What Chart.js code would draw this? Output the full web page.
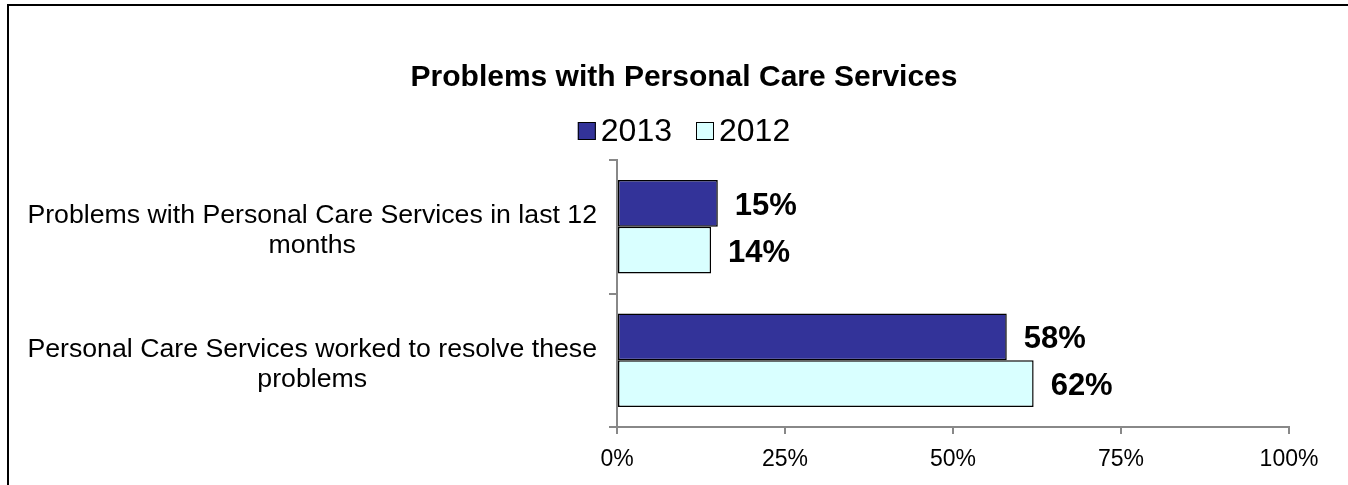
<!DOCTYPE html>
<html>
<head>
<meta charset="utf-8">
<script src="https://cdn.jsdelivr.net/npm/chart.js@4/dist/chart.umd.min.js"></script>
<style>
  html, body { margin: 0; padding: 0; background: #fff; }
  #wrap { width: 1348px; height: 485px; }
</style>
</head>
<body>
<div id="wrap"><canvas id="careChart" width="1348" height="485"></canvas></div>
<script>
const categories = [
  ['Problems with Personal Care Services in last 12', 'months'],
  ['Personal Care Services worked to resolve these', 'problems']
];
const values2013 = [15, 58];
const values2012 = [14, 62];
const xTicks = [0, 25, 50, 75, 100];

// outer frame (only top and left edges show in the picture)
const framePlugin = {
  id: 'frame',
  afterLayout(chart) {
    // centre the title over the whole frame rather than the padded area
    chart.titleBlock.left = 79;
    chart.titleBlock.right = 1289;
  },
  beforeDraw(chart) {
    const ctx = chart.ctx;
    ctx.save();
    ctx.strokeStyle = '#000';
    ctx.lineWidth = 2;
    ctx.beginPath();
    ctx.moveTo(8, 490);
    ctx.lineTo(8, 5);
    ctx.lineTo(1360, 5);
    ctx.stroke();
    ctx.restore();
  }
};

// legend drawn by hand so the box/text spacing matches
const legendPlugin = {
  id: 'smallLegend',
  afterDraw(chart) {
    const ctx = chart.ctx;
    const font = '32px "Liberation Sans", Arial, sans-serif';
    const box = 18, gap = 5, spacing = 24, cy = 131;
    ctx.save();
    ctx.font = font;
    const items = chart.data.datasets.map(ds => ({
      label: ds.label, color: ds.backgroundColor, w: ctx.measureText(ds.label).width
    }));
    let total = items.reduce((s, it) => s + box + gap + it.w, 0) + spacing * (items.length - 1);
    let x = 684 - total / 2;
    items.forEach(it => {
      ctx.fillStyle = it.color;
      ctx.fillRect(x, cy - box / 2, box, box);
      ctx.strokeStyle = '#000';
      ctx.lineWidth = 1;
      ctx.strokeRect(x + 0.5, cy - box / 2 + 0.5, box - 1, box - 1);
      ctx.fillStyle = '#000';
      ctx.textBaseline = 'middle';
      ctx.textAlign = 'left';
      ctx.fillText(it.label, x + box + gap, cy + 1);
      x += box + gap + it.w + spacing;
    });
    ctx.restore();
  }
};

// value labels at bar ends
const valueLabels = {
  id: 'valueLabels',
  afterDatasetsDraw(chart) {
    const ctx = chart.ctx;
    ctx.save();
    ctx.font = 'bold 31px "Liberation Sans", Arial, sans-serif';
    ctx.fillStyle = '#000';
    ctx.textBaseline = 'middle';
    ctx.textAlign = 'left';
    chart.data.datasets.forEach((ds, i) => {
      chart.getDatasetMeta(i).data.forEach((bar, j) => {
        ctx.fillText(ds.data[j] + '%', bar.x + 17, bar.y + 3);
      });
    });
    ctx.restore();
  }
};

new Chart(document.getElementById('careChart'), {
  type: 'bar',
  data: {
    labels: categories,
    datasets: [
      {
        label: '2013',
        data: values2013,
        backgroundColor: '#333399',
        borderColor: '#000',
        borderWidth: 1.5,
        borderSkipped: false
      },
      {
        label: '2012',
        data: values2012,
        backgroundColor: '#D9FFFF',
        borderColor: '#000',
        borderWidth: 1.5,
        borderSkipped: false
      }
    ]
  },
  options: {
    indexAxis: 'y',
    responsive: false,
    animation: false,
    devicePixelRatio: 1,
    categoryPercentage: 0.7,
    barPercentage: 1,
    layout: { padding: { left: 10, right: 59, top: 5, bottom: 0 } },
    plugins: {
      legend: { display: false },
      tooltip: { enabled: false },
      title: {
        display: true,
        text: 'Problems with Personal Care Services',
        color: '#000',
        font: { family: '"Liberation Sans", Arial, sans-serif', size: 30, weight: 'bold', lineHeight: 1.2 },
        padding: { top: 55, bottom: 64 }
      }
    },
    scales: {
      x: {
        min: 0,
        max: 100,
        afterBuildTicks(scale) { scale.ticks = xTicks.map(v => ({ value: v })); },
        afterFit(scale) { scale.height = 58; },
        border: { display: true, color: '#888', width: 2 },
        grid: { display: true, drawOnChartArea: false, drawTicks: true, tickLength: 7, color: '#888', lineWidth: 2 },
        ticks: {
          color: '#000',
          padding: 12,
          maxRotation: 0,
          font: { family: '"Liberation Sans", Arial, sans-serif', size: 23 },
          callback: v => v + '%'
        }
      },
      y: {
        afterFit(scale) { scale.width = 617 - 10; },
        border: { display: true, color: '#888', width: 2 },
        grid: { display: true, offset: true, drawOnChartArea: false, drawTicks: true, tickLength: 8, color: '#888', lineWidth: 2 },
        ticks: {
          color: '#000',
          padding: 12,
          labelOffset: 4,
          crossAlign: 'center',
          font: { family: '"Liberation Sans", Arial, sans-serif', size: 26.7, lineHeight: 1.13 }
        }
      }
    }
  },
  plugins: [framePlugin, legendPlugin, valueLabels]
});
</script>
</body>
</html>
